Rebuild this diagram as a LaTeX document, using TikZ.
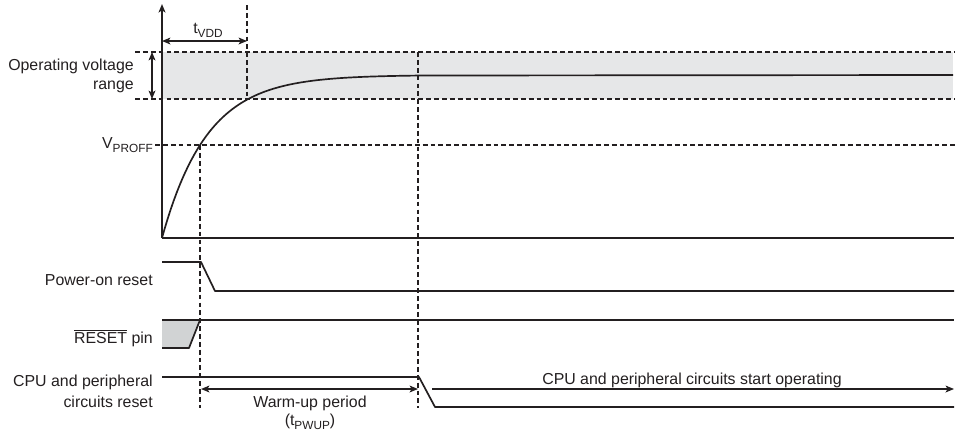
\documentclass[tikz,border=0pt]{standalone}
\usepackage{fontspec}
\setmainfont{Liberation Sans}
\usepackage{xcolor}
\usetikzlibrary{arrows.meta,positioning}
\definecolor{ink}{HTML}{231F20}
\definecolor{bandgray}{HTML}{E6E7E8}
\definecolor{resetgray}{HTML}{D1D3D4}
\newcommand\lowsub[1]{\raisebox{-0.45ex}{\fontsize{8.4}{9}\selectfont #1}}

\begin{document}
\begin{tikzpicture}[
    x=0.025cm, y=-0.025cm,
    sig/.style={draw=ink, line width=1.2pt, line join=round},
    guide/.style={draw=ink, line width=0.9pt, dash pattern=on 3.4pt off 2.2pt},
    lbl/.style={font=\fontsize{11.3}{13}\selectfont, text=ink, align=right,
                anchor=east, inner sep=0pt},
    mid/.style={font=\fontsize{11.3}{13}\selectfont, text=ink, align=center,
                inner sep=0pt},
    tip/.tip={Stealth[length=2.1mm, width=1.7mm, inset=0.5mm]},
    arr/.style={tip-tip, draw=ink, line width=0.9pt},
]
\useasboundingbox (0,0) rectangle (955,436);

% Operating voltage band
\fill[bandgray] (162,52) rectangle (953,99);

% VDD rise
\coordinate (org) at (162,238);
\coordinate (ytop) at (162,4);
\coordinate (xend) at (954,238);
\draw[sig, -tip] (org) -- (ytop);
\draw[sig] (org) -- (xend);
\draw[sig] plot[domain=0:260, samples=90] ({162+\x}, {238-163*(1-exp(-\x/45))}) -- (953,75);

% dashed guides
\coordinate (hiA) at (135,52);  \coordinate (hiB) at (955,52);
\coordinate (loA) at (135,99);  \coordinate (loB) at (955,99);
\coordinate (prA) at (155,145); \coordinate (prB) at (955,145);
\coordinate (tvA) at (247,5);   \coordinate (tvB) at (247,99);
\coordinate (paA) at (200,145); \coordinate (paB) at (200,408);
\coordinate (pbA) at (418,52);  \coordinate (pbB) at (418,408);
\draw[guide] (hiA) -- (hiB);
\draw[guide] (loA) -- (loB);
\draw[guide] (prA) -- (prB);
\draw[guide] (tvA) -- (tvB);
\draw[guide] (paA) -- (paB);
\draw[guide] (pbA) -- (pbB);

% t_VDD and range arrows
\coordinate (tdA) at (162,41); \coordinate (tdB) at (247,41);
\draw[arr] (tdA) -- (tdB);
\node[mid] (tvdd) at (208,30) {t\lowsub{VDD}};
\coordinate (rgA) at (152,52); \coordinate (rgB) at (152,99);
\draw[arr] (rgA) -- (rgB);
\node[lbl, align=right] (oprange) at (134,76) {Operating voltage\\range};
\node[lbl] (vproff) at (153,145) {V\lowsub{PROFF}};

% Power-on reset
\node[lbl] (porlbl) at (153,280) {Power-on reset};
\coordinate (porA) at (162,262); \coordinate (porB) at (201,262);
\coordinate (porC) at (215,291); \coordinate (porD) at (954,291);
\draw[sig] (porA) -- (porB) -- (porC) -- (porD);

% RESET pin
\node[lbl] (rstlbl) at (153,338) {$\overline{\mbox{RESET}}$ pin};
\coordinate (rstA) at (162,320); \coordinate (rstB) at (162,348);
\coordinate (rstC) at (189,348); \coordinate (rstD) at (200,320);
\coordinate (rstE) at (954,320);
\fill[resetgray] (rstA) -- (rstB) -- (rstC) -- (rstD) -- cycle;
\draw[sig] (rstB) -- (rstC) -- (rstD);
\draw[sig] (rstA) -- (rstE);

% CPU and peripheral circuits
\node[lbl, font=\fontsize{11.3}{15}\selectfont] (cpulbl) at (153,391) {CPU and peripheral\\circuits reset};
\coordinate (cpuA) at (162,377); \coordinate (cpuB) at (419,377);
\coordinate (cpuC) at (435,407); \coordinate (cpuD) at (954,407);
\draw[sig] (cpuA) -- (cpuB) -- (cpuC) -- (cpuD);

% warm-up and operating arrows
\coordinate (wuA) at (201,389); \coordinate (wuB) at (418,389);
\draw[arr] (wuA) -- (wuB);
\node[mid] (wulbl) at (310,413) {Warm-up period\\(t\lowsub{PWUP})};
\coordinate (opA) at (432,389); \coordinate (opB) at (954,389);
\draw[arr, -tip] (opA) -- (opB);
\node[mid, anchor=base] (oplbl) at (692,384) {CPU and peripheral circuits start operating};
\end{tikzpicture}
\end{document}
